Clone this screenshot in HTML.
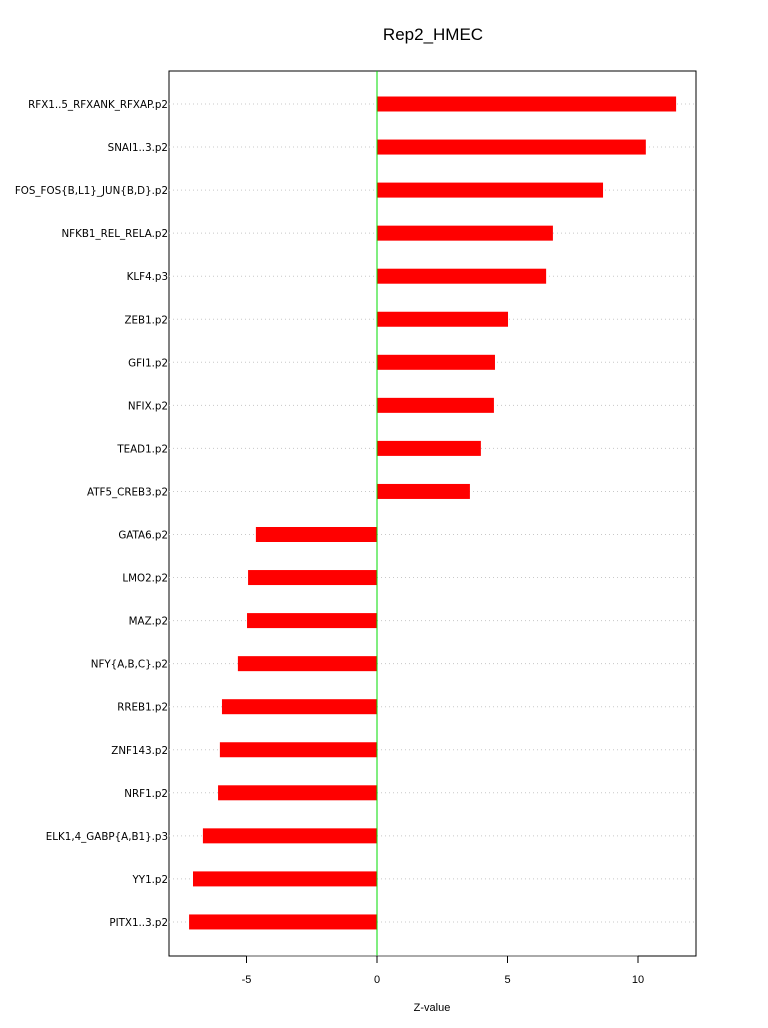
<!DOCTYPE html>
<html><head><meta charset="utf-8"><style>body{margin:0;background:#fff}svg{display:block;font-family:"Liberation Sans",sans-serif}</style></head>
<body>
<svg id="chart" width="768" height="1028">
<text x="433" y="40" font-size="17" text-anchor="middle">Rep2_HMEC</text>
<rect x="169" y="71" width="527" height="885" fill="none" stroke="#000" stroke-width="1"/>
<g id="g"></g>
<text x="432" y="1011" font-size="11" text-anchor="middle">Z-value</text>
</svg>
<script>
const categories=["RFX1..5_RFXANK_RFXAP.p2","SNAI1..3.p2","FOS_FOS{B,L1}_JUN{B,D}.p2","NFKB1_REL_RELA.p2","KLF4.p3","ZEB1.p2","GFI1.p2","NFIX.p2","TEAD1.p2","ATF5_CREB3.p2","GATA6.p2","LMO2.p2","MAZ.p2","NFY{A,B,C}.p2","RREB1.p2","ZNF143.p2","NRF1.p2","ELK1,4_GABP{A,B1}.p3","YY1.p2","PITX1..3.p2"];
const values=[11.46,10.3,8.66,6.74,6.48,5.02,4.52,4.48,3.98,3.56,-4.64,-4.94,-4.98,-5.33,-5.94,-6.02,-6.09,-6.67,-7.05,-7.2];
const xTicks=[-5,0,5,10];
const NS="http://www.w3.org/2000/svg";
const g=document.getElementById('g');
const x=v=>377+v*26.1;
const y=i=>104+i*43.05;
function mk(t,a){const e=document.createElementNS(NS,t);for(const k in a)e.setAttribute(k,a[k]);g.appendChild(e);return e;}
categories.forEach((c,i)=>{
 const gl=mk('line',{x1:169,x2:696,y1:y(i),y2:y(i),stroke:'#c8c8c8','stroke-dasharray':'1,3'});
 
 
 const v=values[i];
 const b=mk('rect',{x:Math.min(x(0),x(v)),y:y(i)-7.5,width:Math.abs(x(v)-x(0)),height:15,fill:'#ff0000'});
 
 
 const t=mk('text',{x:168,y:y(i)+4,'font-size':10.3,'text-anchor':'end','font-family':'DejaVu Sans, sans-serif'});
 t.textContent=c;
 
 
});
const zl=mk('line',{x1:x(0),x2:x(0),y1:71,y2:956,stroke:'#00dd00','stroke-width':1});


const ax=mk('line',{x1:x(xTicks[0]),x2:x(xTicks[xTicks.length-1]),y1:956,y2:956,stroke:'#555'});


xTicks.forEach(v=>{
 const l=mk('line',{x1:x(v),x2:x(v),y1:956,y2:963,stroke:'#000'});
 
 
 const t=mk('text',{x:x(v),y:983,'font-size':11,'text-anchor':'middle'});
 t.textContent=v;
 
 
});
</script>
</body></html>
